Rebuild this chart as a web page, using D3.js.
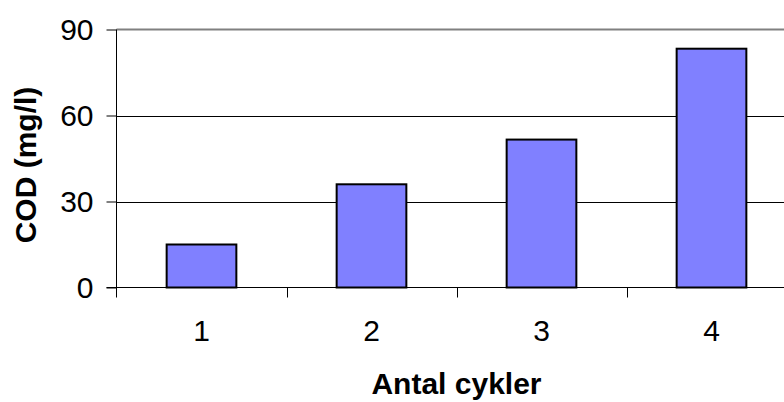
<!DOCTYPE html>
<html><head><meta charset="utf-8">
<script src="https://cdn.jsdelivr.net/npm/d3@7"></script>
<style>html,body{margin:0;padding:0;background:#fff;}svg{display:block;}</style>
</head><body>
<svg id="chart" width="784" height="402"></svg>
<script>
const categories = ["1", "2", "3", "4"];
const values = [15, 36, 51.6, 83.3];
const yTicks = [0, 30, 60, 90];
const xTitle = "Antal cykler";
const yTitle = "COD (mg/l)";

const svg = d3.select("#chart");
const pLeft = 116.5, pRight = 796.5, pTop = 29.5, pBottom = 287.5;
const font = "Liberation Sans, Arial, sans-serif";

const x = d3.scaleBand().domain(categories).range([pLeft, pRight]).paddingInner(0.59).paddingOuter(0.295);
const xb = d3.scaleBand().domain(categories).range([pLeft, pRight]);
const y = d3.scaleLinear().domain([0, 90]).range([pBottom, pTop]);

// gridlines
svg.append("g").selectAll("line").data(yTicks.filter(d => d > 0 && d < 90)).join("line")
  .attr("x1", pLeft).attr("x2", 784).attr("y1", d => Math.round(y(d)) + 0.5).attr("y2", d => Math.round(y(d)) + 0.5)
  .attr("stroke", "#000").attr("stroke-width", 1);
// top border
svg.append("line").attr("x1", pLeft).attr("x2", 784).attr("y1", y(90)).attr("y2", y(90))
  .attr("stroke", "#808080").attr("stroke-width", 2);

// bars
svg.append("g").selectAll("rect").data(values).join("rect")
  .attr("x", (d, i) => x(categories[i]))
  .attr("width", x.bandwidth())
  .attr("y", d => y(d))
  .attr("height", d => y(0) - y(d))
  .attr("fill", "#8080FF").attr("stroke", "#000").attr("stroke-width", 2);

// y axis
const yAxis = d3.axisLeft(y).tickValues(yTicks).tickSize(10).tickPadding(13);
const gy = svg.append("g").attr("transform", `translate(${pLeft},0)`).call(yAxis);
gy.select(".domain").attr("d", `M0,${pTop}V${pBottom + 10}`).attr("stroke", "#000");
gy.selectAll(".tick line").attr("stroke", "#000");
gy.selectAll(".tick text").attr("font-family", font).attr("font-size", 30).attr("fill", "#000");

// x axis
const xAxis = d3.axisBottom(xb).tickSize(0).tickPadding(32);
const gx = svg.append("g").attr("transform", `translate(0,${pBottom})`).call(xAxis);
gx.select(".domain").attr("d", `M${pLeft - 10},0H784`).attr("stroke", "#000");
gx.selectAll(".tick text").attr("font-family", font).attr("font-size", 30).attr("fill", "#000");
svg.append("g").selectAll("line").data(categories.slice(1)).join("line")
  .attr("x1", d => Math.round(xb(d)) + 0.5).attr("x2", d => Math.round(xb(d)) + 0.5)
  .attr("y1", pBottom).attr("y2", pBottom + 10).attr("stroke", "#000");

// titles
svg.append("text").attr("x", (pLeft + pRight) / 2).attr("y", 394).attr("text-anchor", "middle")
  .attr("font-family", font).attr("font-weight", "bold").attr("font-size", 30).text(xTitle);
svg.append("text").attr("transform", `translate(36,165) rotate(-90)`).attr("text-anchor", "middle")
  .attr("font-family", font).attr("font-weight", "bold").attr("font-size", 30).text(yTitle);
</script>
</body></html>
